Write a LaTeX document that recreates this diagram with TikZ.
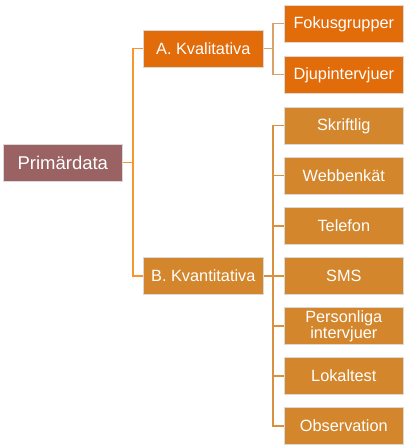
\documentclass[tikz,border=0pt]{standalone}
\usepackage{fontspec}
\setmainfont{Liberation Sans}
\definecolor{primc}{HTML}{9A6262}
\definecolor{orangec}{HTML}{E26B0A}
\definecolor{goldc}{HTML}{D3862C}
\definecolor{lineprim}{HTML}{F7962F}
\definecolor{lineA}{HTML}{D9A26A}
\definecolor{lineB}{HTML}{D8923F}
\begin{document}
\begin{tikzpicture}[x=1pt,y=-1pt,
  box/.style={draw=white!85!black, line width=0.6pt, text=white, font=\fontsize{16.3}{16}\selectfont, align=center, inner sep=0pt, anchor=north west},
  conn/.style={line width=1.4pt}]
\useasboundingbox (0,0) rectangle (408,446);
\node[box, fill=primc, minimum width=119pt, minimum height=37pt, font=\fontsize{18.5}{20}\selectfont] (prim) at (3,144) {Primärdata};
\node[box, fill=orangec, minimum width=120pt, minimum height=37pt] (A) at (143,30) {A. Kvalitativa};
\node[box, fill=goldc, minimum width=120pt, minimum height=37pt] (B) at (143,257) {B. Kvantitativa};
\node[box, fill=orangec, minimum width=119pt, minimum height=37pt] (f) at (284,5) {Fokusgrupper};
\node[box, fill=orangec, minimum width=119pt, minimum height=37pt] (d) at (284,56) {Djupintervjuer};
\foreach \n/\t [count=\i from 0] in {s1/Skriftlig,s2/Webbenkät,s3/Telefon,s4/SMS,s5/{Personliga\\intervjuer},s6/Lokaltest,s7/Observation}{
  \node[box, fill=goldc, minimum width=119pt, minimum height=37pt] (\n) at (284,107+50*\i) {\t};
}
\coordinate (pj) at (133,0);
\coordinate (aj) at (273,0);
\draw[conn, lineprim] (prim.east) -- (prim.east -| pj);
\draw[conn, lineprim] (A.west) -| (pj |- B.west) -- (B.west);
\draw[conn, lineA] (A.east) -- (A.east -| aj);
\draw[conn, lineA] (f.west) -| (aj |- d.west) -- (d.west);
\draw[conn, lineB] (B.east) -- (B.east -| aj);
\draw[conn, lineB] (s1.west) -| (aj |- s7.west) -- (s7.west);
\foreach \n in {s2,s3,s4,s5,s6}{\draw[conn, lineB] (aj |- \n.west) -- (\n.west);}
\end{tikzpicture}
\end{document}
